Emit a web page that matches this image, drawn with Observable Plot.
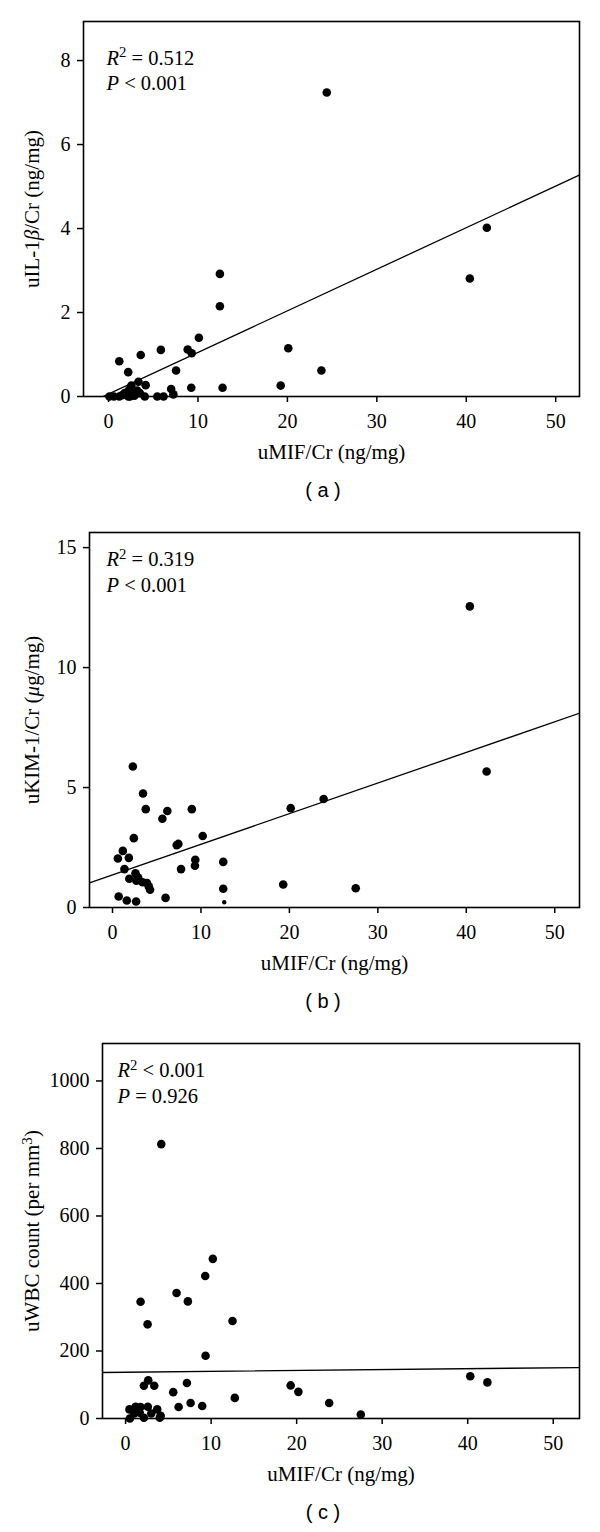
<!DOCTYPE html>
<html><head><meta charset="utf-8">
<script src="https://cdn.jsdelivr.net/npm/d3@7"></script>
<script src="https://cdn.jsdelivr.net/npm/@observablehq/plot@0.6"></script>
<style>
body{margin:0;background:#fff;width:600px;}
.panel{position:relative;width:600px;height:511px;}
.panel svg{position:absolute;left:0;top:0;}
.cap{position:absolute;left:223px;width:200px;top:477px;text-align:center;font:20px "Liberation Sans",Arial,sans-serif;color:#000;line-height:26px;white-space:pre;}
</style></head><body><div id="root"></div><script>
// ---------- Panel (a): uIL-1β/Cr vs uMIF/Cr ----------
const mifA = [0.1,0.6,1.2,1.5,1.8,2.2,2.4,2.9,2.3,2.55,3.2,3.35,3.5,4.05,4.15,5.45,6.15,7.0,7.25,9.25,12.75,19.25,2.2,7.55,1.2,3.6,5.85,8.85,9.3,10.1,20.1,12.45,12.45,23.8,24.4,40.4,42.3];
const il1bA = [0,0,0,0.03,0.08,0,0,0.02,0.16,0.26,0.14,0.35,0.08,0,0.27,0,0,0.18,0.05,0.21,0.21,0.26,0.58,0.62,0.84,0.99,1.11,1.12,1.03,1.4,1.15,2.15,2.92,0.62,7.24,2.81,4.02];
const fitA = {intercept: 0.06, slope: 0.099};
const yTicksA = [0,2,4,6,8];

// ---------- Panel (b): uKIM-1/Cr vs uMIF/Cr ----------
const mifB = [2.3,3.45,3.76,6.2,5.64,8.97,20.15,2.41,10.2,7.26,7.45,1.17,0.61,1.85,9.36,9.32,12.52,1.35,7.75,1.9,2.6,2.7,2.9,3.4,3.9,4.1,4.25,12.52,19.3,0.7,1.62,2.67,6.0,27.5,40.4,42.3,23.87];
const kimB = [5.88,4.75,4.1,4.02,3.7,4.1,4.14,2.89,2.98,2.6,2.65,2.36,2.04,2.07,1.99,1.74,1.9,1.6,1.6,1.2,1.43,1.12,1.25,1.05,1.02,0.88,0.74,0.78,0.96,0.46,0.29,0.25,0.4,0.8,12.55,5.67,4.52];
const mifBsmall = [12.63];
const kimBsmall = [0.22];
const fitB = {intercept: 1.36, slope: 0.1276};
const yTicksB = [0,5,10,15];

// ---------- Panel (c): uWBC count vs uMIF/Cr ----------
const mifC = [4.17,10.2,9.31,5.96,7.28,1.75,2.57,12.5,9.35,2.65,2.14,3.35,7.17,5.57,19.3,20.2,12.77,7.6,6.2,8.96,23.8,27.5,40.3,42.3,0.5,0.45,1.17,1.75,2.6,1.0,1.65,2.14,3.0,3.7,4.0,4.1,1.4];
const wbcC = [813,473,422,372,347,346,279,289,186,113,97,97,105,78,98,79,61,46,34,37,46,12,125,107,0,27,35,34,35,15,17,2,15,27,2,8,28];
const fitC = {intercept: 137.0, slope: 0.264};
const yTicksC = [0,200,400,600,800,1000];

const xTicks = [0,10,20,30,40,50];
const xTitle = "uMIF/Cr (ng/mg)";

const panels = [
  {L: 83, xDomain: [-2.8, 52.66], yDomain: [0, 8.93], yTicks: yTicksA, xs: mifA, ys: il1bA, fit: fitA,
   ytitle: "uIL-1*β*/Cr (ng/mg)", ann: ["*R*^2^ = 0.512", "*P* < 0.001"], annDx: 23, annDy: 43, cap: "( a )"},
  {L: 89, xDomain: [-2.6, 52.8], yDomain: [0, 15.63], yTicks: yTicksB, xs: mifB, ys: kimB, fit: fitB,
   sx: mifBsmall, sy: kimBsmall,
   ytitle: "uKIM-1/Cr (*μ*g/mg)", ann: ["*R*^2^ = 0.319", "*P* < 0.001"], annDx: 17, annDy: 33.7, cap: "( b )"},
  {L: 102, xDomain: [-2.7, 53.07], yDomain: [0, 1111], yTicks: yTicksC, xs: mifC, ys: wbcC, fit: fitC,
   ytitle: "uWBC count (per mm^3^)", ann: ["*R*^2^ < 0.001", "*P* = 0.926"], annDx: 15, annDy: 33.7, cap: "( c )"}
];

function enrich(svg) {
  d3.select(svg).selectAll("text").each(function() {
    const t = this.textContent;
    if (!/[*^]/.test(t)) return;
    const fs = parseFloat(getComputedStyle(this).fontSize) || 18;
    const sel = d3.select(this);
    sel.text(null);
    const parts = t.split(/(\*[^*]+\*|\^[^^]+\^)/).filter(s => s.length);
    let pending = 0;
    for (const p of parts) {
      const ts = sel.append("tspan");
      if (pending) { ts.attr("dy", pending); pending = 0; }
      if (p[0] === "*") ts.attr("font-style", "italic").text(p.slice(1, -1));
      else if (p[0] === "^") {
        ts.attr("font-size", (0.72 * fs) + "px").attr("dy", -0.36 * fs).text(p.slice(1, -1));
        pending = 0.36 * fs;
      } else ts.text(p);
    }
  });
}

const root = document.getElementById("root");
for (const P of panels) {
  const pts = P.xs.map((x, i) => ({x, y: P.ys[i]}));
  const small = P.sx ? P.sx.map((x, i) => ({x, y: P.sy[i]})) : [];
  const fitLine = P.xDomain.map(x => ({x, y: P.fit.intercept + P.fit.slope * x}));
  const svg = Plot.plot({
    width: 600, height: 470,
    marginTop: 21, marginBottom: 74, marginLeft: P.L, marginRight: 21,
    style: {fontFamily: '"Liberation Serif", "Times New Roman", serif', fontSize: "20px", background: "white", color: "black", overflow: "visible"},
    x: {domain: P.xDomain},
    y: {domain: P.yDomain},
    marks: [
      Plot.line(fitLine, {x: "x", y: "y", stroke: "black", strokeWidth: 1.3, clip: true}),
      Plot.dot(pts, {x: "x", y: "y", r: 4.3, fill: "black"}),
      Plot.dot(small, {x: "x", y: "y", r: 2.2, fill: "black"}),
      Plot.frame({stroke: "black", strokeWidth: 1.6}),
      Plot.axisX({ticks: xTicks, tickFormat: d => String(d), tickSize: 6, tickPadding: 11, fontSize: 20, strokeWidth: 1.5, label: null}),
      Plot.axisY({ticks: P.yTicks, tickFormat: d => String(d), tickSize: 6, tickPadding: 7, fontSize: 20, strokeWidth: 1.5, label: null}),
      Plot.text([xTitle], {text: d => d, frameAnchor: "bottom", dy: 56, lineAnchor: "middle", fontSize: 21, fill: "black"}),
      Plot.text([P.ytitle], {text: d => d, frameAnchor: "left", dx: 32 - P.L, rotate: -90, textAnchor: "middle", lineAnchor: "middle", fontSize: 21, fill: "black"}),
      Plot.text([P.ann[0]], {text: d => d, frameAnchor: "top-left", dx: P.annDx, dy: P.annDy, textAnchor: "start", lineAnchor: "bottom", fontSize: 20.5, fill: "black"}),
      Plot.text([P.ann[1]], {text: d => d, frameAnchor: "top-left", dx: P.annDx, dy: P.annDy + 25.5, textAnchor: "start", lineAnchor: "bottom", fontSize: 20.5, fill: "black"})
    ]
  });
  const div = document.createElement("div");
  div.className = "panel";
  div.appendChild(svg);
  const cap = document.createElement("div");
  cap.className = "cap";
  cap.textContent = P.cap;
  div.appendChild(cap);
  root.appendChild(div);
  enrich(svg);
}
</script></body></html>
